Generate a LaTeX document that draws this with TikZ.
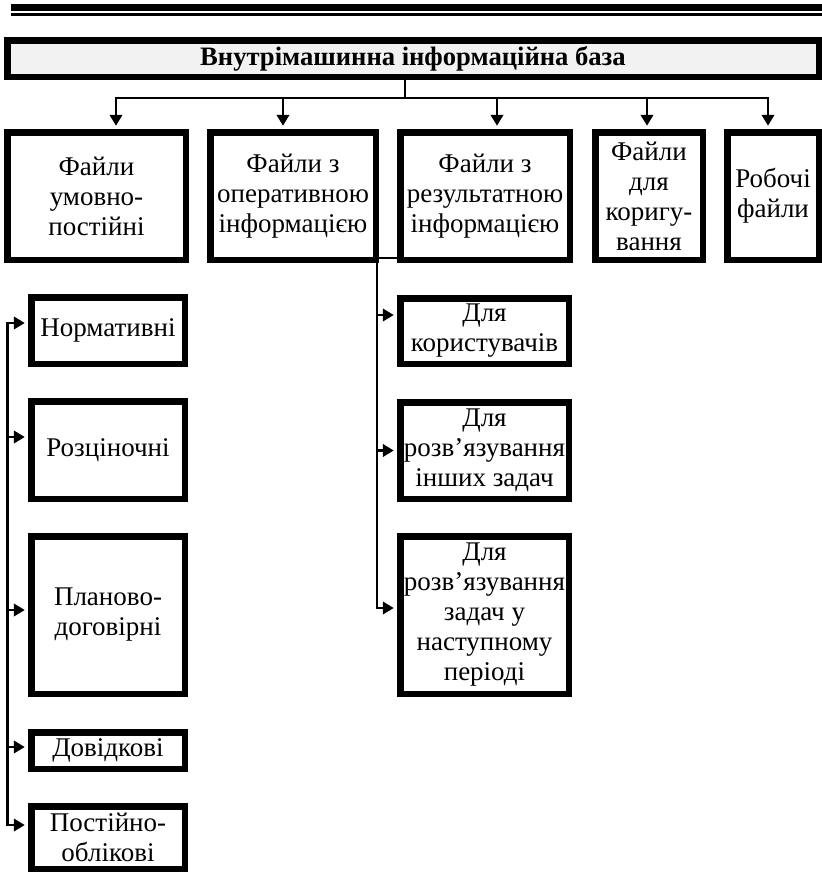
\documentclass[tikz,border=0pt]{standalone}
\usepackage{fontspec}
\setmainfont{Liberation Serif}
\usetikzlibrary{arrows.meta}
% box given by its outer edges: [options]{name}{x1}{y1}{x2}{y2}{text}
\newcommand\mkbox[7][]{%
  \node[box,#1,minimum width={(#5)-(#3)-6.5}, minimum height={(#6)-(#4)-6.5}]
    (#2) at ({((#3)+(#5))/2},{((#4)+(#6))/2}) {#7};}
\begin{document}
\begin{tikzpicture}[x=1pt,y=-1pt,
  box/.style={draw, line width=6.5pt, inner sep=0pt, align=center,
              font=\fontsize{27}{30}\selectfont},
  conn/.style={line width=2.5pt},
  arr/.style={conn, -{Triangle[length=11pt,width=12.5pt]}, shorten >=3.25pt},
  link/.style={line width=1.2pt},
]
\useasboundingbox (0,0) rectangle (822,873);

% double rule at the head of the page
\fill (11,4.3) rectangle (822,11);
\fill (11,13.3) rectangle (822,15.7);

% root
\mkbox[fill={rgb,255:red,242;green,242;blue,242}, font=\fontsize{26.6}{30}\selectfont\bfseries]{title}{4}{37}{822}{80}{Внутрімашинна інформаційна база}

% first level
\mkbox{b1}{4}{129}{189}{263}{Файли\\умовно-\\постійні}
\mkbox{b2}{207}{129}{379}{263}{Файли з\\оперативною\\інформацією}
\mkbox{b3}{397}{129}{573}{263}{Файли з\\результатною\\інформацією}
\mkbox{b4}{592}{129}{706}{263}{Файли\\для\\коригу-\\вання}
\mkbox{b5}{724}{129}{822}{263}{Робочі\\файли}

% conditionally permanent files
\mkbox{n1}{28}{294}{188}{367}{Нормативні}
\mkbox{n2}{28}{398}{188}{502}{Розціночні}
\mkbox{n3}{28}{533}{188}{697}{Планово-\\договірні}
\mkbox{n4}{28}{729}{188}{772}{Довідкові}
\mkbox{n5}{28}{803}{188}{872}{Постійно-\\облікові}

% result files
\mkbox{r1}{397}{295}{572}{367}{Для\\користувачів}
\mkbox{r2}{397}{399}{572}{502}{Для\\розв’язування\\інших задач}
\mkbox{r3}{397}{533}{572}{697}{Для\\розв’язування\\задач у\\наступному\\періоді}

% root to first level
\coordinate (hub) at (405,98);
\coordinate (t1) at (116,98);
\coordinate (t2) at (283,98);
\coordinate (t3) at (497,98);
\coordinate (t4) at (647,98);
\coordinate (t5) at (768,98);
\draw[conn] (title.south -| hub) -- (hub);
\draw[conn, line cap=rect] (t1) -- (t5);
\foreach \i in {1,...,5} \draw[arr] (t\i) -- (t\i |- b\i.north);

% left branch
\coordinate (lb) at (7.5,0);
\coordinate (e1) at ([yshift=7.5pt]n1.west);
\coordinate (e2) at ([yshift=13pt]n2.west);
\coordinate (e3) at ([yshift=5pt]n3.west);
\coordinate (e4) at ([yshift=3.5pt]n4.west);
\coordinate (e5) at ([yshift=12.5pt]n5.west);
\draw[conn, line cap=rect] (lb |- e1) -- (lb |- e5);
\foreach \i in {1,...,5} \draw[arr] (lb |- e\i) -- (e\i);

% right branch
\coordinate (rb) at (377,258);
\coordinate (f1) at ([yshift=16pt]r1.west);
\coordinate (f2) at (r2.west);
\coordinate (f3) at ([yshift=7pt]r3.west);
\draw[link] (rb) -- (rb -| b3.west);
\draw[conn, line cap=rect] (rb) -- (rb |- f3);
\foreach \i in {1,2,3} \draw[arr] (rb |- f\i) -- (f\i);
\end{tikzpicture}
\end{document}
